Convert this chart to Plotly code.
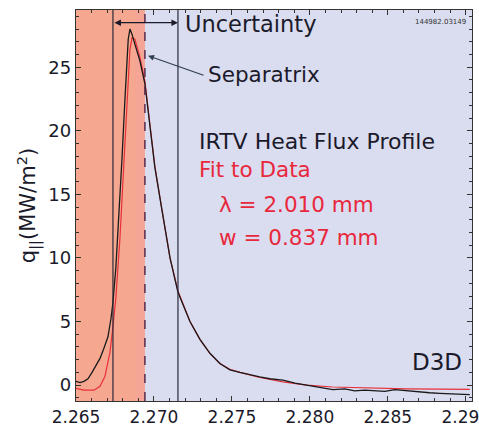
import plotly.graph_objects as go

# Measured IRTV heat flux profile (black)
x_meas = [2.26500, 2.26526, 2.26551, 2.26577, 2.26603, 2.26628, 2.26654, 2.26679, 2.26705,
          2.26724, 2.26737, 2.26756, 2.26776, 2.26795, 2.26814, 2.26827, 2.26835, 2.26846,
          2.26859, 2.26878, 2.26910, 2.26942, 2.26974, 2.27006, 2.27051, 2.27103, 2.27154,
          2.27231, 2.27295, 2.27359, 2.27423, 2.27487, 2.27551, 2.27615, 2.27679, 2.27743,
          2.27827, 2.27904, 2.27981, 2.28064, 2.28147, 2.28224, 2.28288, 2.28352, 2.28404,
          2.28481, 2.28545, 2.28622, 2.28705, 2.28769, 2.28833, 2.28929, 2.29026]
q_meas = [0.3, 0.2, 0.3, 0.5, 1.0, 1.5, 2.1, 2.9, 3.8,
          5.2, 6.5, 9.3, 13.2, 17.8, 22.5, 25.6, 27.2, 28.0,
          27.6, 26.8, 25.5, 23.7, 20.2, 17.1, 13.8, 10.0, 7.3,
          5.0, 3.6, 2.5, 1.7, 1.2, 1.0, 0.8, 0.65, 0.5,
          0.4, 0.15, 0.0, -0.2, -0.35, -0.3, -0.45, -0.4, -0.45,
          -0.5, -0.35, -0.45, -0.55, -0.6, -0.65, -0.7, -0.75]

# Fit to data (red)
x_fit = [2.26500, 2.26551, 2.26615, 2.26654, 2.26686, 2.26718, 2.26737, 2.26756, 2.26782,
         2.26808, 2.26827, 2.26846, 2.26859, 2.26878, 2.26910, 2.26942, 2.26974, 2.27006,
         2.27051, 2.27103, 2.27154, 2.27231, 2.27295, 2.27359, 2.27423, 2.27487, 2.27551,
         2.27679, 2.27827, 2.27981, 2.28147, 2.28404, 2.28622, 2.28833, 2.29026]
q_fit = [-0.25, -0.4, -0.4, -0.1, 0.7, 2.6, 4.6, 6.9, 11.6,
         17.8, 22.5, 26.4, 27.3, 27.2, 25.8, 23.9, 20.5, 17.2,
         13.8, 10.0, 7.4, 5.0, 3.6, 2.5, 1.7, 1.25, 1.0,
         0.6, 0.25, 0.0, -0.15, -0.25, -0.3, -0.32, -0.33]

x_range = [2.265, 2.2904]
y_range = [-1.25, 29.5]
x_ticks = [2.265, 2.270, 2.275, 2.280, 2.285, 2.290]
y_ticks = [0, 5, 10, 15, 20, 25]

unc_lo, separatrix, unc_hi = 2.26737, 2.26942, 2.27154

FONT = "DejaVu Sans"
DARK = "#1a1a2a"
RED = "#e8283c"

fig = go.Figure()
fig.add_trace(go.Scatter(x=x_fit, y=q_fit, mode="lines",
                         line=dict(color="#e8303a", width=1.2), showlegend=False))
fig.add_trace(go.Scatter(x=x_meas, y=q_meas, mode="lines",
                         line=dict(color="#1a1a1a", width=1.3), showlegend=False))

shapes = [
    dict(type="rect", xref="x", yref="paper", x0=x_range[0], x1=separatrix, y0=0, y1=1,
         fillcolor="#f5a88f", line=dict(width=0), layer="below"),
    dict(type="rect", xref="x", yref="paper", x0=2.2688, x1=separatrix, y0=0, y1=1,
         fillcolor="#f4a2a0", opacity=0.45, line=dict(width=0), layer="below"),
    dict(type="line", xref="x", yref="paper", x0=unc_lo, x1=unc_lo, y0=0, y1=1,
         line=dict(color="#2a2a3a", width=1.2)),
    dict(type="line", xref="x", yref="paper", x0=unc_hi, x1=unc_hi, y0=0, y1=1,
         line=dict(color="#2a2a3a", width=1.2)),
    dict(type="line", xref="x", yref="paper", x0=separatrix, x1=separatrix, y0=0, y1=1,
         line=dict(color="#5a2a4a", width=1.5, dash="dash")),
]

annotations = [
    dict(x=unc_hi, y=28.5, ax=unc_lo, ay=28.5, xref="x", yref="y", axref="x", ayref="y",
         showarrow=True, arrowhead=2, arrowside="end+start", arrowsize=1, arrowwidth=1.3,
         arrowcolor=DARK, text=""),
    dict(x=separatrix + 0.0002, y=25.9, ax=57, ay=20, xref="x", yref="y",
         showarrow=True, arrowhead=2, arrowsize=1, arrowwidth=1.2, arrowcolor="#2f3f4f", text=""),
    dict(x=0.27, y=0.965, xref="paper", yref="paper", xanchor="left", yanchor="middle",
         text="Uncertainty", showarrow=False, font=dict(size=22.5, color=DARK)),
    dict(x=0.328, y=0.834, xref="paper", yref="paper", xanchor="left", yanchor="middle",
         text="Separatrix", showarrow=False, font=dict(size=21.5, color=DARK)),
    dict(x=0.305, y=0.664, xref="paper", yref="paper", xanchor="left", yanchor="middle",
         text="IRTV Heat Flux Profile", showarrow=False, font=dict(size=22, color=DARK)),
    dict(x=0.305, y=0.591, xref="paper", yref="paper", xanchor="left", yanchor="middle",
         text="Fit to Data", showarrow=False, font=dict(size=21.5, color=RED)),
    dict(x=0.355, y=0.502, xref="paper", yref="paper", xanchor="left", yanchor="middle",
         text="λ = 2.010 mm", showarrow=False, font=dict(size=21.5, color=RED)),
    dict(x=0.355, y=0.419, xref="paper", yref="paper", xanchor="left", yanchor="middle",
         text="w = 0.837 mm", showarrow=False, font=dict(size=21.5, color=RED)),
    dict(x=0.98, y=0.1, xref="paper", yref="paper", xanchor="right", yanchor="middle",
         text="D3D", showarrow=False, font=dict(size=23, color=DARK)),
    dict(x=0.99, y=0.985, xref="paper", yref="paper", xanchor="right", yanchor="top",
         text="144982.03149", showarrow=False, font=dict(size=7, color="#333333")),
]

fig.update_layout(
    width=479, height=425,
    margin=dict(l=76, r=7, t=10, b=24),
    paper_bgcolor="white",
    plot_bgcolor="#dadcf0",
    font=dict(family=FONT, color=DARK),
    shapes=shapes,
    annotations=annotations,
    showlegend=False,
)
fig.update_xaxes(range=x_range, tickvals=x_ticks, tickformat=".3f", ticklabeloverflow="allow",
                 automargin=False,
                 ticks="inside", ticklen=5, tickcolor="#333", showgrid=False, zeroline=False,
                 showline=True, linecolor="#333", linewidth=1.3, mirror="allticks",
                 tickfont=dict(size=17, color=DARK),
                 minor=dict(dtick=0.001, ticks="inside", ticklen=3, tickcolor="#333"))
fig.update_yaxes(range=y_range, tickvals=y_ticks, automargin=False,
                 ticks="inside", ticklen=5, tickcolor="#333", showgrid=False, zeroline=False,
                 showline=True, linecolor="#333", linewidth=1.3, mirror="allticks",
                 tickfont=dict(size=18, color=DARK),
                 title=dict(text="q<sub>||</sub>(MW/m<sup>2</sup>)", font=dict(size=21), standoff=6),
                 minor=dict(dtick=1, ticks="inside", ticklen=3, tickcolor="#333"))

fig.write_html("out.html")
